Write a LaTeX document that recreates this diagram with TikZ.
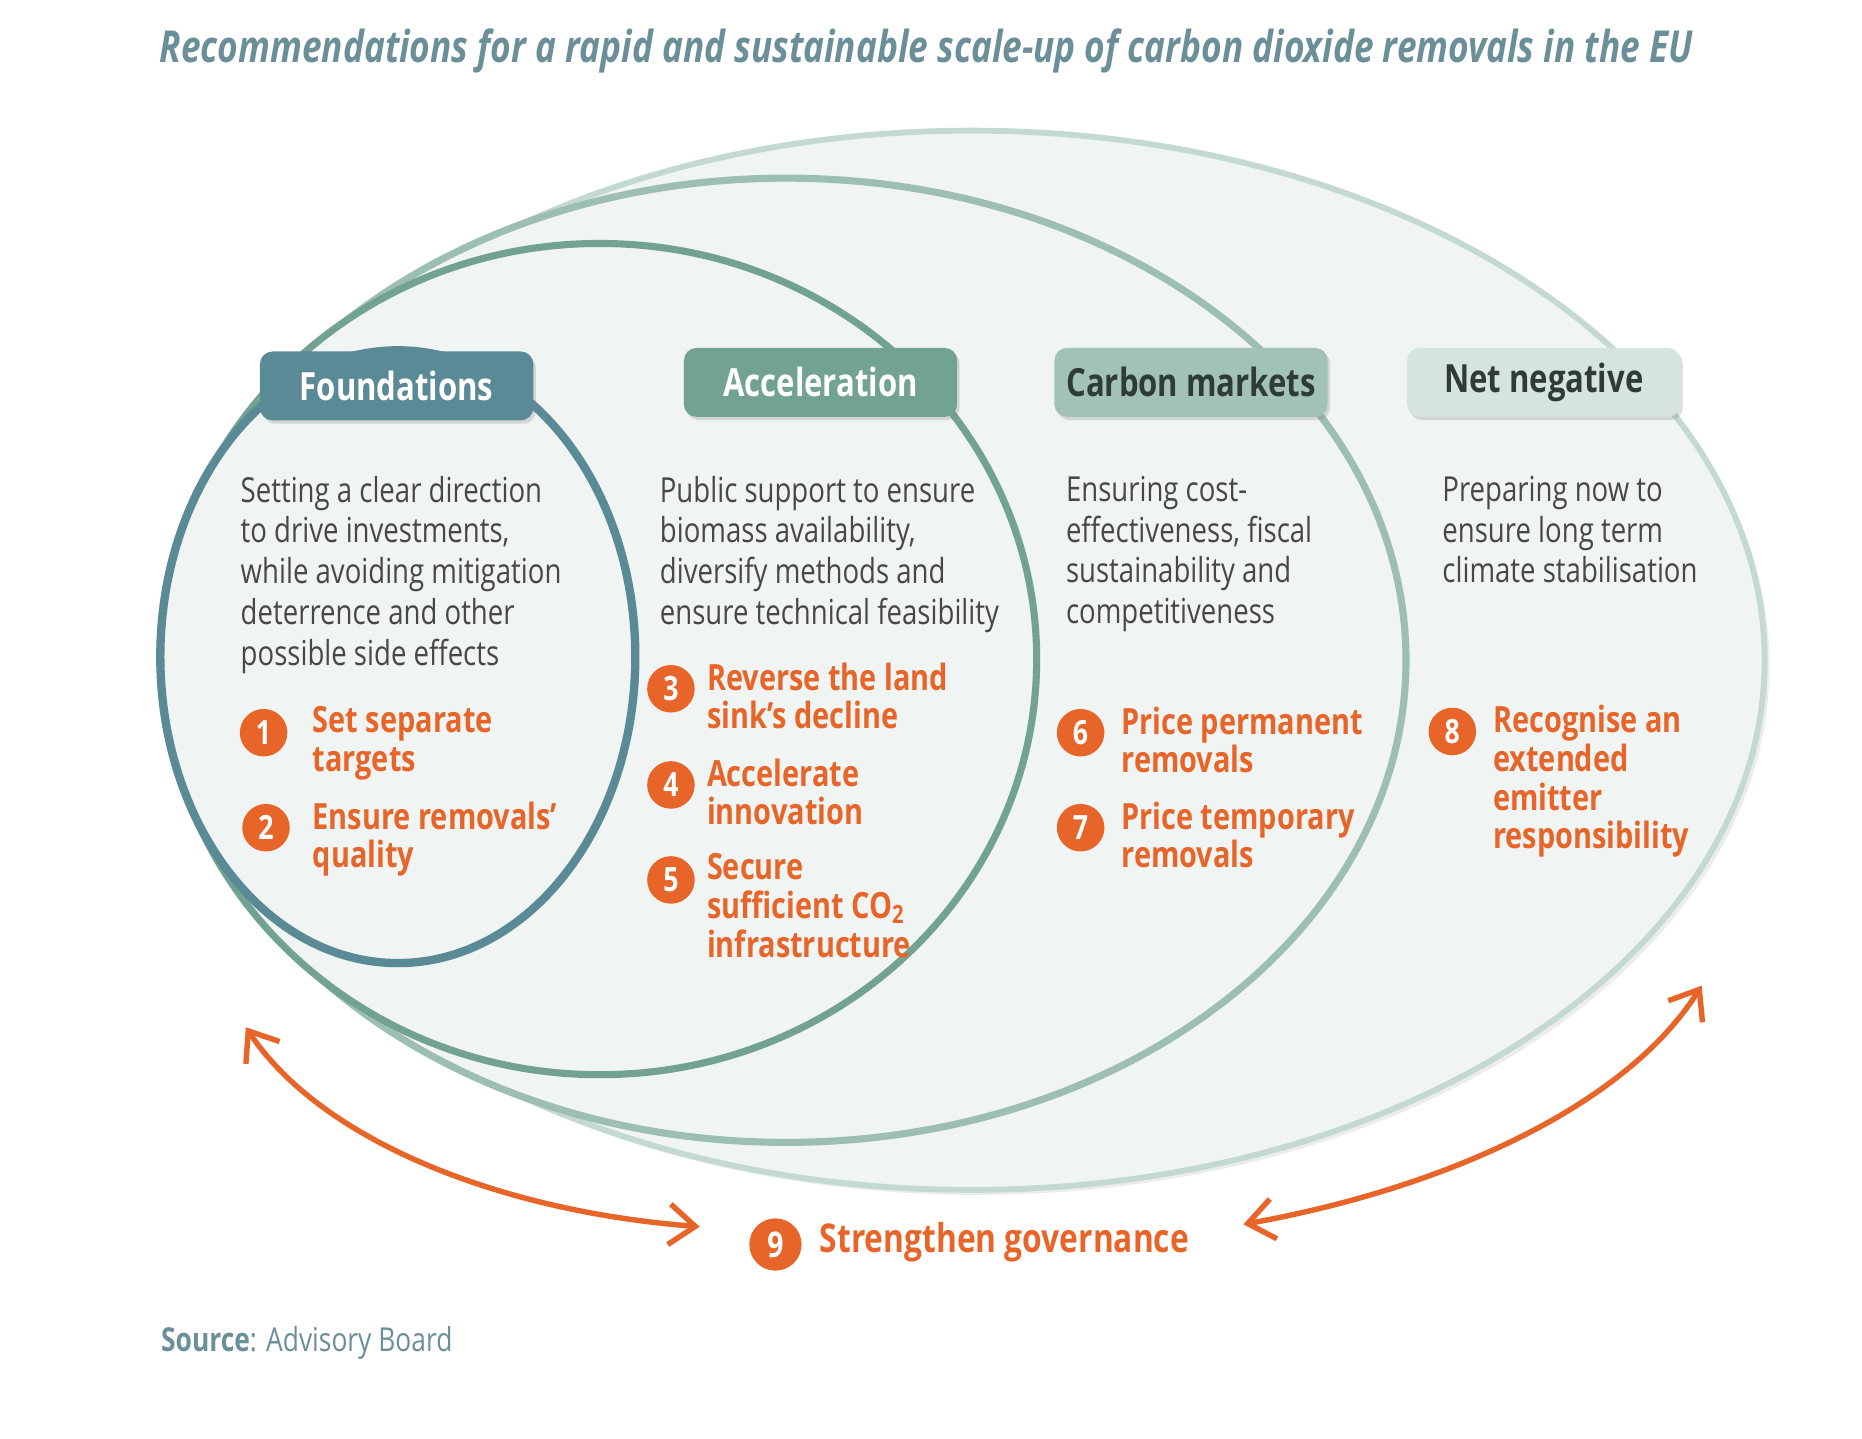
\documentclass[tikz,border=0pt]{standalone}
\usepackage{fontspec}
\setmainfont{Open Sans}[FakeStretch=0.8]
\usetikzlibrary{arrows.meta,positioning,shadows,calc}
\definecolor{titleink}{HTML}{6B8F98}
\definecolor{found}{HTML}{5B8A97}
\definecolor{accel}{HTML}{72A392}
\definecolor{carbon}{HTML}{A2C2B8}
\definecolor{carbonline}{HTML}{9CBEB4}
\definecolor{netneg}{HTML}{D5E4DF}
\definecolor{netline}{HTML}{C3D9D2}
\definecolor{pale}{HTML}{F0F4F3}
\definecolor{ember}{HTML}{E8652A}
\definecolor{ink}{HTML}{474747}
\definecolor{darkink}{HTML}{2E3B37}
\tikzset{hdr/.style={rounded corners=3pt,minimum width=2.3cm,minimum height=5.8mm,inner sep=0pt,font=\fontsize{9.3}{11}\selectfont\bfseries,drop shadow={shadow xshift=.6pt,shadow yshift=-.8pt,opacity=.25}}, body/.style={anchor=north west,align=left,inner sep=0pt,text=ink,font=\fontsize{8.25}{9.8}\selectfont}, rec/.style={anchor=north west,align=left,inner sep=0pt,text=ember,font=\fontsize{8.65}{9.25}\selectfont\bfseries}, num/.style={circle,fill=ember,text=white,inner sep=0pt,minimum size=4mm,font=\fontsize{8}{8}\selectfont\bfseries}, garrow/.style={{Straight Barb[length=2.2mm,width=3.4mm]}-{Straight Barb[length=2.2mm,width=3.4mm]},line width=1.3pt,draw=ember}, ttl/.style={font=\fontsize{10.55}{12}\selectfont\bfseries\itshape,text=titleink}, src/.style={anchor=west,inner sep=0pt,text=titleink,font=\fontsize{7.9}{9}\selectfont}}

\begin{document}
\begin{tikzpicture}[x=0.01cm,y=-0.01cm]
\useasboundingbox (0,0) rectangle (1568,1211);
\node[ttl] (title) at (780,43) {Recommendations for a rapid and sustainable scale-up of carbon dioxide removals in the EU};
% nested ovals
\draw[netline,fill=pale,line width=1.4pt,drop shadow={shadow xshift=1.2pt,shadow yshift=-1.2pt,opacity=.15}] (818,556) ellipse [x radius=668,y radius=446];
\draw[carbonline,fill=pale,line width=1.7pt] (662,556) ellipse [x radius=522,y radius=406];
\draw[accel,fill=pale,line width=1.7pt] (505,555) ellipse [x radius=368,y radius=350];
\draw[found,fill=pale,line width=2pt] (335,553) ellipse [x radius=200,y radius=258];
% headers
\foreach \nm/\x/\y/\lab/\bg/\fg in {found/334/325/Foundations/found/white,accel/691/322/Acceleration/accel/white,carbon/1003/322/Carbon markets/carbon/darkink,netneg/1300/322/Net negative/netneg/darkink}{\node[hdr,fill=\bg,text=\fg] (h-\nm) at (\x,\y) {\lab};}
\node[body] (d-found) at (202,400) {Setting a clear direction\\to drive investments,\\while avoiding mitigation\\deterrence and other\\possible side effects};
\node[body] (d-accel) at (555,400) {Public support to ensure\\biomass availability,\\diversify methods and\\ensure technical feasibility};
\node[body] (d-carbon) at (897,400) {Ensuring cost-\\effectiveness, fiscal\\sustainability and\\competitiveness};
\node[body] (d-netneg) at (1214,400) {Preparing now to\\ensure long term\\climate stabilisation};
% recommendations
\foreach \n/\x/\y/\g/\t in {1/222/617/20/{Set separate\\targets},2/224/697/18/{Ensure removals’\\quality},3/565/580/9/{Reverse the land\\sink’s decline},4/565/661/9/{Accelerate\\innovation},5/565/741/9/{Secure\\sufficient CO\textsubscript{2}\\infrastructure},6/910/617/13/{Price permanent\\removals},7/910/697/13/{Price temporary\\removals},8/1223/616/13/{Recognise an\\extended\\emitter\\responsibility}}{\node[num] (n\n) at (\x,\y) {\n}; \node[rec] (r\n) at ($(n\n.north -| n\n.east)+(\g,-2)$) {\t};}
\node[num,minimum size=4.4mm,font=\fontsize{8.5}{9}\selectfont\bfseries] (n9) at (653,1048) {9};
\node[rec,anchor=west,font=\fontsize{9.5}{11}\selectfont\bfseries] (gov) at ($(n9.east)+(14,-2)$) {Strengthen governance};
\coordinate (gl-a) at (207,865);
\coordinate (gl-b) at ($(n9.west)+(-41,-15)$);
\coordinate (gr-a) at ($(gov.east)+(45,-15)$);
\coordinate (gr-b) at (1433,830);
\draw[garrow] (gl-a) .. controls (270,960) and (420,1020) .. (gl-b);
\draw[garrow] (gr-a) .. controls (1220,1000) and (1370,930) .. (gr-b);
\node[src] (src) at (135,1131) {\textbf{Source}: Advisory Board};
\end{tikzpicture}
\end{document}
